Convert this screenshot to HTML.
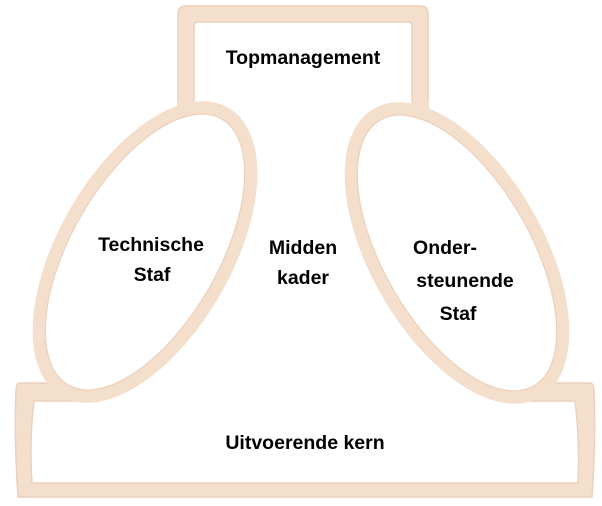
<!DOCTYPE html>
<html><head><meta charset="utf-8"><style>
html,body{margin:0;padding:0;background:#fff;width:602px;height:506px;overflow:hidden}
text{font-family:"Liberation Sans",sans-serif;font-weight:bold;font-size:19.5px;fill:#000;text-anchor:middle}
</style></head><body>
<svg width="602" height="506" viewBox="0 0 602 506" xmlns="http://www.w3.org/2000/svg">
<g fill="#f4dfcd" stroke="#ecd0bb" stroke-width="1.5">
<path d="M178,130 V14 Q178,6 186,6 H420 Q428,6 428,14 V130 Z"/>
<path d="M20,383 H590 Q594,383 594,392 Q596,440 592,497 H18 Q14,440 16,392 Q16,383 20,383 Z"/>
</g>
<path d="M178,100 L428,100 L460,390 L145,390 Z" fill="#f4dfcd"/>
<g fill="#fff" stroke="#ecd0bb" stroke-width="1.5">
<path d="M194,140 V26 Q194,22 198,22 H408 Q412,22 412,26 V140"/>
<path d="M34,401 H575 Q580,440 578,483 H32 Q29,440 34,401 Z"/>
</g>
<path d="M195,100 L411,100 L505,402 L100,402 Z" fill="#fff"/>
<ellipse cx="145" cy="252" rx="80" ry="160" transform="rotate(30 145 252)" fill="#fff" stroke="#f4dfcd" stroke-width="13"/>
<ellipse cx="145" cy="252" rx="73.5" ry="153.5" transform="rotate(30 145 252)" fill="none" stroke="#ecd0bb" stroke-width="1.2"/>
<ellipse cx="457" cy="253" rx="80" ry="160" transform="rotate(-30 457 253)" fill="#fff" stroke="#f4dfcd" stroke-width="13"/>
<ellipse cx="457" cy="253" rx="73.5" ry="153.5" transform="rotate(-30 457 253)" fill="none" stroke="#ecd0bb" stroke-width="1.2"/>
<text x="303" y="64">Topmanagement</text>
<text x="151" y="251">Technische</text>
<text x="152" y="281">Staf</text>
<text x="303" y="254">Midden</text>
<text x="303" y="284">kader</text>
<text x="445" y="254">Onder-</text>
<text x="465" y="287">steunende</text>
<text x="458" y="320">Staf</text>
<text x="305" y="449">Uitvoerende kern</text>
</svg>
</body></html>
